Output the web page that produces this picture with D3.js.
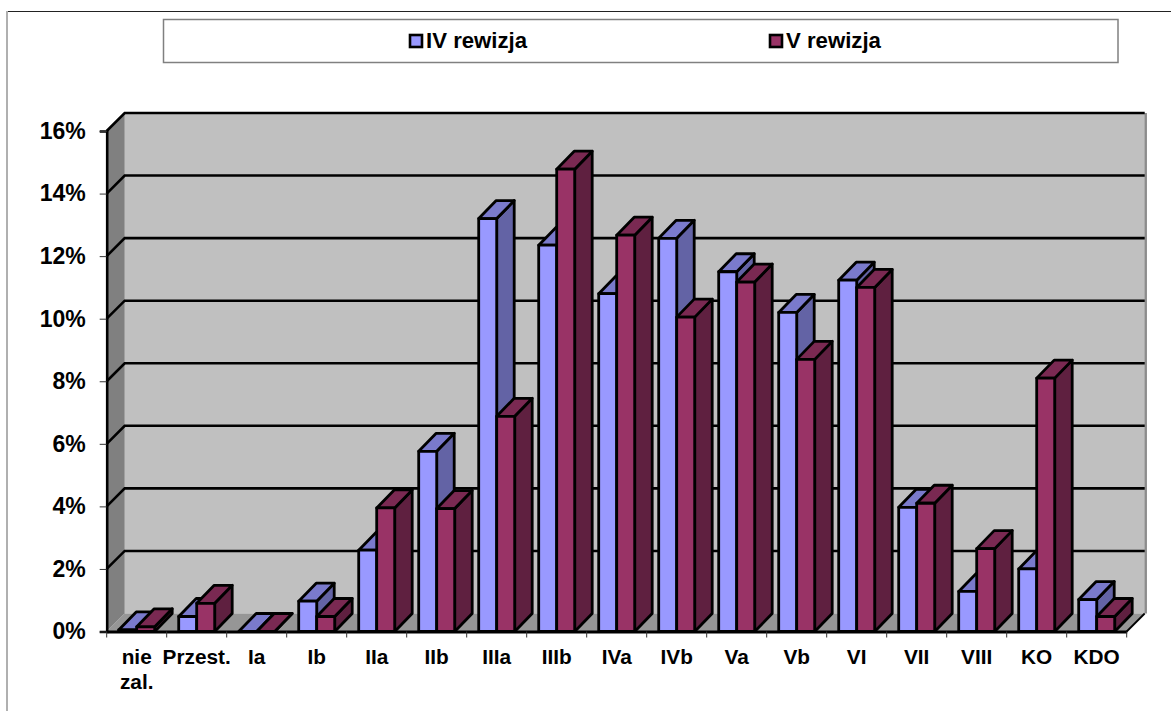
<!DOCTYPE html>
<html>
<head>
<meta charset="utf-8">
<script src="https://d3js.org/d3.v7.min.js"></script>
<style>
body { margin: 0; background: #fff; }
svg { display: block; }
text { font-family: "Liberation Sans", Arial, sans-serif; font-weight: bold; fill: #000; }
</style>
</head>
<body>
<svg width="1171" height="711"></svg>
<script>
var categories = ["nie zal.", "Przest.", "Ia", "Ib", "IIa", "IIb", "IIIa", "IIIb", "IVa", "IVb", "Va", "Vb", "VI", "VII", "VIII", "KO", "KDO"];
var seriesNames = ["IV rewizja", "V rewizja"];
var rewizja4 = [0.05, 0.48, 0, 0.97, 2.6, 5.76, 13.2, 12.35, 10.8, 12.57, 11.5, 10.2, 11.23, 3.97, 1.28, 2.0, 1.02];
var rewizja5 = [0.15, 0.9, 0, 0.48, 3.95, 3.93, 6.88, 14.78, 12.67, 10.05, 11.17, 8.7, 11.0, 4.1, 2.65, 8.1, 0.48];
var yTicks = [0, 2, 4, 6, 8, 10, 12, 14, 16];

var svg = d3.select("svg");

// colours: front, top, side
var colors = [
    { front: "#9999ff", top: "#7a7acc", side: "#6363a5" },
    { front: "#993366", top: "#7a2952", side: "#5f2040" }
];
var depth = 18;      // wall depth
var barDepth = 17.5;

var x = d3.scaleBand().domain(categories).range([106.7, 1126.7]);
var xInner = d3.scaleBand().domain(seriesNames).range([0, x.bandwidth()]).paddingOuter(0.667);
var y = d3.scaleLinear().domain([0, 16]).range([631.5, 131]);

var left = x.range()[0], right = x.range()[1];

// page frame
svg.append("line").attr("x1", 6).attr("x2", 1171).attr("y1", 11.5).attr("y2", 11.5)
    .style("stroke", "#222").style("stroke-width", 1.2);
svg.append("line").attr("x1", 7).attr("x2", 7).attr("y1", 11).attr("y2", 711)
    .style("stroke", "#b0b0b0").style("stroke-width", 2);

// legend
svg.append("rect").attr("x", 163.5).attr("y", 19.5).attr("width", 954.5).attr("height", 43)
    .style("fill", "#fff").style("stroke", "#808080").style("stroke-width", 1.5);
var legendX = [410, 770];
seriesNames.forEach(function(name, i) {
    svg.append("rect").attr("x", legendX[i]).attr("y", 35).attr("width", 12).attr("height", 12)
        .style("fill", colors[i].front).style("stroke", "#000").style("stroke-width", 2.6);
    svg.append("text").attr("x", legendX[i] + 16).attr("y", 48)
        .style("font-size", "22.2px").text(name);
});

// walls and floor
var polygon = function(points, fill) {
    return svg.append("polygon")
        .attr("points", points.map(function(p) { return p.join(","); }).join(" "))
        .style("fill", fill);
};
polygon([[left + depth, y(16) - depth], [right + depth, y(16) - depth], [right + depth, y(0) - depth], [left + depth, y(0) - depth]], "#c0c0c0");
polygon([[left, y(16)], [left + depth, y(16) - depth], [left + depth, y(0) - depth], [left, y(0)]], "#808080");
polygon([[left, y(0)], [left + depth, y(0) - depth], [right + depth, y(0) - depth], [right, y(0)]], "#969696");
svg.append("line").attr("x1", right + depth + 1).attr("x2", right + depth + 1)
    .attr("y1", y(16) - depth).attr("y2", y(0) - depth)
    .style("stroke", "#8c8c8c").style("stroke-width", 2.5);

// gridlines on back and side wall
svg.append("g").selectAll("polyline")
    .data(yTicks.filter(function(d) { return d > 0; }))
    .enter()
    .append("polyline")
    .attr("points", function(d) {
        return [[left, y(d)], [left + depth, y(d) - depth], [right + depth, y(d) - depth]].join(" ");
    })
    .style("fill", "none")
    .style("stroke", "#000")
    .style("stroke-width", 2.6);

// bars, left to right so that the nearer one covers the one before
var bars = [];
categories.forEach(function(c, i) {
    bars.push({ cat: c, s: 0, v: rewizja4[i] });
    bars.push({ cat: c, s: 1, v: rewizja5[i] });
});
var barG = svg.append("g").selectAll("g")
    .data(bars)
    .enter()
    .append("g")
    .style("stroke", "#000")
    .style("stroke-width", 2.8)
    .style("stroke-linejoin", "round");

var px = function(d) { return x(d.cat) + xInner(seriesNames[d.s]); };
var w = xInner.bandwidth();

// side face
barG.append("polygon")
    .attr("points", function(d) {
        var a = px(d) + w, t = y(d.v), b = y(0);
        return [[a, t], [a + barDepth, t - depth], [a + barDepth, b - depth], [a, b]].join(" ");
    })
    .style("fill", function(d) { return colors[d.s].side; });
// top face
barG.append("polygon")
    .attr("points", function(d) {
        var a = px(d), t = y(d.v);
        return [[a, t], [a + barDepth, t - depth], [a + w + barDepth, t - depth], [a + w, t]].join(" ");
    })
    .style("fill", function(d) { return colors[d.s].top; });
// front face
barG.append("rect")
    .attr("x", px)
    .attr("y", function(d) { return y(d.v); })
    .attr("width", w)
    .attr("height", function(d) { return y(0) - y(d.v); })
    .style("fill", function(d) { return colors[d.s].front; });

// axes
var yAxis = d3.axisLeft(y).tickValues(yTicks).tickSize(7).tickPadding(14)
    .tickFormat(function(d) { return d + "%"; });
var yG = svg.append("g").attr("transform", "translate(" + left + ",0)").call(yAxis);
yG.select(".domain").style("stroke", "#000").style("stroke-width", 2.6);
yG.selectAll(".tick line").style("stroke", "#333").style("stroke-width", 1);
yG.selectAll("text").style("font-size", "23px").style("font-family", "'Liberation Sans', Arial, sans-serif");

var xAxis = d3.axisBottom(x).tickSize(0).tickPadding(14);
var xG = svg.append("g").attr("transform", "translate(0," + y(0) + ")").call(xAxis);
xG.select(".domain").style("stroke", "#000").style("stroke-width", 2.8);
xG.selectAll("text").remove();

// category boundary ticks
svg.append("g").selectAll("line")
    .data(d3.range(categories.length + 1))
    .enter()
    .append("line")
    .attr("x1", function(d) { return left + d * x.step(); })
    .attr("x2", function(d) { return left + d * x.step(); })
    .attr("y1", y(0))
    .attr("y2", y(0) + 6)
    .style("stroke", "#333")
    .style("stroke-width", 1);

// right end of the floor
svg.append("line").attr("x1", right).attr("y1", y(0)).attr("x2", right + depth).attr("y2", y(0) - depth)
    .style("stroke", "#000").style("stroke-width", 1.8);

// category labels, "nie zal." wraps onto two lines
var labels = svg.append("g").selectAll("text")
    .data(categories)
    .enter()
    .append("text")
    .attr("text-anchor", "middle")
    .style("font-size", "20.8px");
labels.each(function(c) {
    var t = d3.select(this);
    c.split(" ").forEach(function(word, i) {
        t.append("tspan")
            .attr("x", x(c) + x.bandwidth() / 2)
            .attr("y", 664 + i * 25)
            .text(word);
    });
});
</script>
</body>
</html>
